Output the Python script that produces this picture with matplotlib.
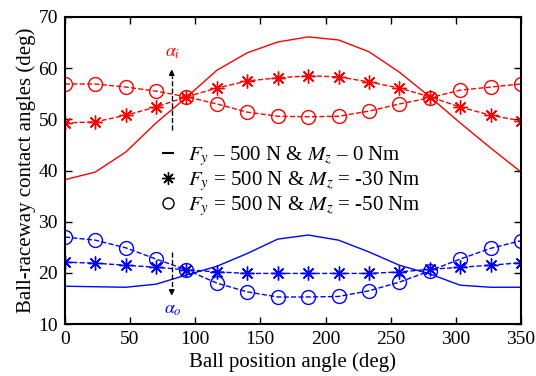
import numpy as np
import matplotlib
matplotlib.use('Agg')
import matplotlib.pyplot as plt
from matplotlib.lines import Line2D

plt.rcParams['font.family'] = ['Liberation Serif', 'DejaVu Serif']
plt.rcParams['mathtext.fontset'] = 'stix'

# ball position angles (deg)
ball_pos = [0, 23.3, 46.7, 70, 93.3, 116.7, 140, 163.3, 186.7, 210, 233.3, 256.7, 280, 303.3, 326.7, 350]

# inner raceway contact angle alpha_i (deg)
inner_mz0 = [38.2, 39.7, 43.6, 49.3, 54.3, 59.6, 63.0, 65.1, 66.1, 65.5, 63.2, 59.2, 54.4, 49.3, 44.4, 39.7]
inner_mz30 = [49.3, 49.5, 50.8, 52.4, 54.4, 56.1, 57.5, 58.1, 58.5, 58.3, 57.3, 56.1, 54.4, 52.4, 50.8, 49.7]
inner_mz50 = [56.9, 56.9, 56.3, 55.5, 54.4, 53.0, 51.4, 50.6, 50.5, 50.6, 51.6, 53.0, 54.2, 55.7, 56.3, 56.9]

# outer raceway contact angle alpha_o (deg)
outer_mz0 = [17.4, 17.3, 17.2, 17.8, 19.6, 21.3, 23.8, 26.6, 27.4, 26.4, 24.1, 21.5, 19.8, 17.6, 17.2, 17.2]
outer_mz30 = [22.1, 21.9, 21.5, 21.1, 20.6, 20.2, 19.9, 19.9, 19.9, 19.9, 19.9, 20.2, 20.7, 21.1, 21.5, 22.0]
outer_mz50 = [27.0, 26.4, 24.9, 22.7, 20.6, 18.0, 16.3, 15.3, 15.3, 15.4, 16.5, 18.2, 20.4, 22.7, 24.8, 26.3]

legend_labels = [r'$F_y$ – 500 N & $M_z$ – 0 Nm',
                 r'$F_y$ = 500 N & $M_z$ = -30 Nm',
                 r'$F_y$ = 500 N & $M_z$ = -50 Nm']

fig = plt.figure(figsize=(5.36, 3.76), dpi=100)
ax = fig.add_axes([0.121, 0.138, 0.851, 0.817])

star = (8, 2, 0)
for col, s0, s30, s50 in [('red', inner_mz0, inner_mz30, inner_mz50),
                          ('blue', outer_mz0, outer_mz30, outer_mz50)]:
    ax.plot(ball_pos, s0, '-', color=col, lw=1)
    ax.plot(ball_pos, s30, '--', color=col, lw=1, marker=star, ms=10, mew=1)
    ax.plot(ball_pos, s50, '--', color=col, lw=1, marker='o', ms=10, mfc='none', mew=1)

# contact angle arrows
ax.plot([82, 82], [47.9, 58.5], '--', color='k', lw=1)
ax.annotate('', xy=(82, 60.3), xytext=(82, 58.0),
            arrowprops=dict(arrowstyle='-|>', color='k', lw=1, mutation_scale=8))
ax.text(83, 63.0, r'$\alpha_i$', color='red', fontsize=13, ha='center', va='center')
ax.plot([82, 82], [24.0, 16.8], '--', color='k', lw=1)
ax.annotate('', xy=(82, 15.0), xytext=(82, 17.2),
            arrowprops=dict(arrowstyle='-|>', color='k', lw=1, mutation_scale=8))
ax.text(83, 12.8, r'$\alpha_o$', color='blue', fontsize=13, ha='center', va='center')

handles = [Line2D([], [], color='k', marker='_', ms=9, mew=1.5, ls='none'),
           Line2D([], [], color='k', marker=star, ms=9, mew=1, ls='none'),
           Line2D([], [], color='k', marker='o', ms=8, mfc='none', mew=1, ls='none')]
ax.legend(handles, legend_labels, loc='upper left', bbox_to_anchor=(0.185, 0.62),
          frameon=False, fontsize=15, handlelength=0.8, handletextpad=0.55,
          labelspacing=0.05, borderpad=0)

ax.set_xlim(0, 350)
ax.set_ylim(10, 70)
ax.set_xticks(np.arange(0, 351, 50))
ax.set_yticks(np.arange(10, 71, 10))
ax.tick_params(direction='in', top=True, right=True, labelsize=14, length=5, width=1, pad=5)
for sp in ax.spines.values():
    sp.set_linewidth(1.5)
ax.set_xlabel('Ball position angle (deg)', fontsize=15, labelpad=3)
ax.set_ylabel('Ball-raceway contact angles (deg)', fontsize=15, labelpad=2)

fig.savefig('out.png', dpi=100)
